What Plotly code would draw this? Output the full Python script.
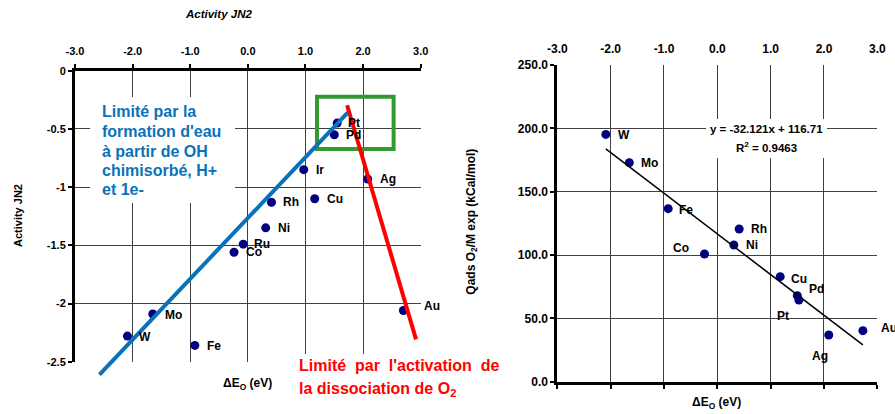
import plotly.graph_objects as go

W, H = 895, 414

# ---------------- data ----------------
tick_x_vals = [-3, -2, -1, 0, 1, 2, 3]
tick_x_text = ["-3.0", "-2.0", "-1.0", "0.0", "1.0", "2.0", "3.0"]

# left chart: Activity JN2 vs dE_O
left_metals = ["W", "Mo", "Fe", "Co", "Ru", "Ni", "Rh", "Ir", "Cu", "Pd", "Pt", "Ag", "Au"]
left_dE = [-2.09, -1.65, -0.92, -0.24, -0.08, 0.31, 0.41, 0.97, 1.16, 1.50, 1.55, 2.08, 2.70]
left_activity = [-2.28, -2.09, -2.36, -1.56, -1.49, -1.35, -1.13, -0.85, -1.10, -0.55, -0.45, -0.93, -2.06]
left_y_vals = [0, -0.5, -1, -1.5, -2, -2.5]
left_y_text = ["0", "-0.5", "-1", "-1.5", "-2", "-2.5"]

# hand-drawn guide lines / box on the left chart (data units)
blue_line_x = [-2.60, 1.733]
blue_line_y = [-2.623, -0.361]
red_line_x = [1.723, 2.919]
red_line_y = [-0.297, -2.308]
green_box_x = [1.20, 2.53]
green_box_y = [-0.223, -0.673]

# right chart: Qads O2/M exp vs dE_O
right_metals = ["W", "Mo", "Fe", "Co", "Ni", "Rh", "Cu", "Pd", "Pt", "Ag", "Au"]
right_dE = [-2.09, -1.65, -0.92, -0.24, 0.31, 0.41, 1.18, 1.50, 1.53, 2.09, 2.73]
right_qads = [195.2, 172.9, 136.6, 100.8, 107.9, 120.5, 82.9, 67.9, 64.5, 36.9, 40.3]
right_y_vals = [0, 50, 100, 150, 200, 250]
right_y_text = ["0.0", "50.0", "100.0", "150.0", "200.0", "250.0"]
trend_slope = -32.121
trend_intercept = 116.71
trend_r2 = 0.9463

blue_text_lines = ["Limité par la", "formation d'eau", "à partir de OH", "chimisorbé, H+", "et 1e-"]
red_text_lines = ["Limité\u00a0 par\u00a0 l'activation\u00a0 de", "la dissociation de O<sub>2</sub>"]

# ---------------- styles / layout ----------------
FONT = "Arial, Liberation Sans, sans-serif"
NAVY = "#000080"
BLUE = "#0A72BA"
RED = "#FF0000"
GREEN = "#339933"
GRID = "#404040"

# plot areas in pixels
L_X0, L_X1, L_Y0, L_Y1 = 75.0, 420.7, 70.7, 361.7
R_X0, R_X1, R_Y0, R_Y1 = 557.3, 877.3, 65.0, 381.7
L_XR, L_YR = (-3, 3), (-2.5, 0)
R_XR, R_YR = (-3, 3), (0, 250)


def px(x):
    return x / W


def py(y):
    return 1 - y / H


def lx(p):  # left-chart pixel -> x units (for background boxes only)
    return L_XR[0] + (p - L_X0) / (L_X1 - L_X0) * (L_XR[1] - L_XR[0])


def ly(p):
    return L_YR[1] - (p - L_Y0) / (L_Y1 - L_Y0) * (L_YR[1] - L_YR[0])


def rx(p):
    return R_XR[0] + (p - R_X0) / (R_X1 - R_X0) * (R_XR[1] - R_XR[0])


def ry(p):
    return R_YR[1] - (p - R_Y0) / (R_Y1 - R_Y0) * (R_YR[1] - R_YR[0])


# label placement per metal: (xanchor, xshift, yshift)
left_label_pos = {m: ("left", 10, 0) for m in left_metals}
left_label_pos.update({"Au": ("left", 19, 4), "Pt": ("left", 9, 0), "W": ("left", 10, -1),
                       "Ru": ("left", 9, 0), "Mo": ("left", 10, -1), "Fe": ("left", 10, -1)})
right_label_pos = {m: ("left", 10, 0) for m in right_metals}
right_label_pos.update({"Co": ("right", -14, 6), "Cu": ("left", 9, -2), "Pd": ("left", 10, 7),
                        "Pt": ("center", -16, -16), "Ag": ("center", -9, -21), "Au": ("left", 16, 3),
                        "W": ("left", 10, -1), "Fe": ("left", 9, -1)})

fig = go.Figure()

fig.add_trace(go.Scatter(x=left_dE, y=left_activity, mode="markers", xaxis="x", yaxis="y",
                         marker=dict(size=9, color=NAVY), showlegend=False, hoverinfo="skip"))
fig.add_trace(go.Scatter(x=right_dE, y=right_qads, mode="markers", xaxis="x2", yaxis="y2",
                         marker=dict(size=9, color=NAVY), showlegend=False, hoverinfo="skip"))
tx = [min(right_dE), max(right_dE)]
ty = [trend_slope * v + trend_intercept for v in tx]
fig.add_trace(go.Scatter(x=tx, y=ty, mode="lines", xaxis="x2", yaxis="y2",
                         line=dict(color="black", width=1.5), showlegend=False, hoverinfo="skip"))
fig.add_trace(go.Scatter(x=[None], y=[None], xaxis="x3", yaxis="y2", showlegend=False))

tickfont_l = dict(family=FONT, size=11, color="black", weight="bold")
tickfont_r = dict(family=FONT, size=12, color="black", weight="bold")

layout = dict(
    width=W, height=H, margin=dict(l=0, r=0, t=0, b=0, autoexpand=False),
    paper_bgcolor="white", plot_bgcolor="white", showlegend=False,
    xaxis=dict(domain=[px(L_X0), px(L_X1)], range=list(L_XR), side="top", anchor="y",
               tickvals=tick_x_vals, ticktext=tick_x_text, tickfont=tickfont_l,
               showgrid=True, gridcolor=GRID, gridwidth=1, zeroline=False,
               showline=True, linecolor="black", linewidth=3, ticklabelstandoff=4,
               ticks="outside", ticklen=4, tickcolor="black", tickwidth=1.5),
    yaxis=dict(domain=[py(L_Y1), py(L_Y0)], range=list(L_YR), anchor="x",
               tickvals=left_y_vals, ticktext=left_y_text, tickfont=tickfont_l,
               showgrid=True, gridcolor=GRID, gridwidth=1, zeroline=False,
               showline=True, linecolor="black", linewidth=3,
               ticks="outside", ticklen=4, tickcolor="black", tickwidth=1.5),
    xaxis2=dict(domain=[px(R_X0), px(R_X1)], range=list(R_XR), side="top", anchor="y2",
                tickvals=tick_x_vals, ticktext=tick_x_text, tickfont=tickfont_r,
                showgrid=True, gridcolor=GRID, gridwidth=1, zeroline=False,
                showline=False, ticks="", ticklabelstandoff=9),
    xaxis3=dict(domain=[px(R_X0), px(R_X1)], range=list(R_XR), side="bottom", anchor="y2",
                overlaying="x2", tickvals=tick_x_vals, showticklabels=False,
                showgrid=False, zeroline=False,
                showline=True, linecolor="black", linewidth=3,
                ticks="outside", ticklen=4, tickcolor="black", tickwidth=1.5),
    yaxis2=dict(domain=[py(R_Y1), py(R_Y0)], range=list(R_YR), anchor="x2",
                tickvals=right_y_vals, ticktext=right_y_text, tickfont=tickfont_r,
                showgrid=True, gridcolor=GRID, gridwidth=1, zeroline=False,
                showline=True, linecolor="black", linewidth=3,
                ticks="outside", ticklen=4, tickcolor="black", tickwidth=1.5),
)
fig.update_layout(**layout)

shapes = []
# white text-box backgrounds (hide gridlines)
shapes.append(dict(type="rect", xref="x", yref="y", layer="between",
                   x0=lx(90), x1=lx(235), y0=ly(203), y1=ly(97),
                   fillcolor="white", line=dict(width=0)))
shapes.append(dict(type="rect", xref="x", yref="y", layer="between",
                   x0=lx(287), x1=lx(440), y0=ly(410), y1=ly(354),
                   fillcolor="white", line=dict(width=0)))
shapes.append(dict(type="rect", xref="x2", yref="y2", layer="between",
                   x0=rx(706), x1=rx(827), y0=ry(158), y1=ry(119),
                   fillcolor="white", line=dict(width=0)))
# green box
shapes.append(dict(type="rect", xref="x", yref="y", layer="above",
                   x0=green_box_x[0], x1=green_box_x[1], y0=green_box_y[0], y1=green_box_y[1],
                   line=dict(color=GREEN, width=4), fillcolor="rgba(0,0,0,0)"))
# red line
shapes.append(dict(type="line", xref="x", yref="y", layer="above",
                   x0=red_line_x[0], x1=red_line_x[1], y0=red_line_y[0], y1=red_line_y[1],
                   line=dict(color=RED, width=4)))
fig.update_layout(shapes=shapes)

ann = []
ann.append(dict(xref="x", yref="y", axref="x", ayref="y",
                x=blue_line_x[1], y=blue_line_y[1], ax=blue_line_x[0], ay=blue_line_y[0],
                text="", showarrow=True, arrowhead=0, arrowwidth=4, arrowcolor=BLUE,
                standoff=0, startstandoff=0))

lab_font = dict(family=FONT, size=12, color="black", weight="bold")
for m, xv, yv in zip(left_metals, left_dE, left_activity):
    xa, xs, ys = left_label_pos[m]
    ann.append(dict(xref="x", yref="y", x=xv, y=yv, text=m, showarrow=False,
                    xanchor=xa, yanchor="middle", xshift=xs, yshift=ys, font=lab_font))
for m, xv, yv in zip(right_metals, right_dE, right_qads):
    xa, xs, ys = right_label_pos[m]
    ann.append(dict(xref="x2", yref="y2", x=xv, y=yv, text=m, showarrow=False,
                    xanchor=xa, yanchor="middle", xshift=xs, yshift=ys, font=lab_font))

ann.append(dict(xref="paper", yref="paper", x=px(218), y=py(13.5), text="<b><i>Activity JN2</i></b>",
                showarrow=False, xanchor="center", yanchor="middle",
                font=dict(family=FONT, size=11.5, color="black")))
ann.append(dict(xref="paper", yref="paper", x=px(18), y=py(216), text="<b>Activity JN2</b>",
                showarrow=False, xanchor="center", yanchor="middle", textangle=-90,
                font=dict(family=FONT, size=11, color="black")))
ann.append(dict(xref="paper", yref="paper", x=px(247.5), y=py(384), text="<b>ΔE<sub>O</sub> (eV)</b>",
                showarrow=False, xanchor="center", yanchor="middle",
                font=dict(family=FONT, size=12, color="black")))
ann.append(dict(xref="paper", yref="paper", x=px(471.7), y=py(222),
                text="<b>Qads O<sub>2</sub>/M exp (kCal/mol)</b>",
                showarrow=False, xanchor="center", yanchor="middle", textangle=-90,
                font=dict(family=FONT, size=12, color="black")))
ann.append(dict(xref="paper", yref="paper", x=px(716.7), y=py(403), text="<b>ΔE<sub>O</sub> (eV)</b>",
                showarrow=False, xanchor="center", yanchor="middle",
                font=dict(family=FONT, size=12, color="black")))
eq_text = f"<b>y = {trend_slope}x + {trend_intercept}</b>"
ann.append(dict(xref="paper", yref="paper", x=px(766.7), y=py(129), text=eq_text,
                showarrow=False, xanchor="center", yanchor="middle",
                font=dict(family=FONT, size=11.5, color="black")))
ann.append(dict(xref="paper", yref="paper", x=px(766.7), y=py(147),
                text=f"<b>R<sup>2</sup> = {trend_r2}</b>",
                showarrow=False, xanchor="center", yanchor="middle",
                font=dict(family=FONT, size=11.5, color="black")))

for line, yc in zip(blue_text_lines, [111.5, 131.5, 151, 170.5, 189]):
    ann.append(dict(xref="paper", yref="paper", x=px(100), y=py(yc), text=f"<b>{line}</b>",
                    showarrow=False, xanchor="left", yanchor="middle",
                    font=dict(family=FONT, size=16, color=BLUE)))
for line, yc in zip(red_text_lines, [365, 389]):
    ann.append(dict(xref="paper", yref="paper", x=px(297), y=py(yc), text=f"<b>{line}</b>",
                    showarrow=False, xanchor="left", yanchor="middle",
                    font=dict(family=FONT, size=16, color=RED)))

fig.update_layout(annotations=ann)

fig.write_html("out.html", config={"displayModeBar": False},
               post_script="document.body.style.margin='0';document.body.style.overflow='hidden';")
